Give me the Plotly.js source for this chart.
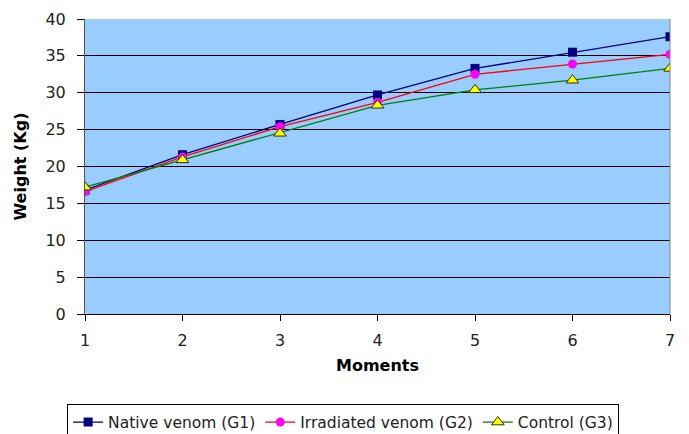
<!DOCTYPE html>
<html><head><meta charset="utf-8">
<script src="https://cdn.plot.ly/plotly-3.0.1.min.js"></script>
<style>html,body{margin:0;padding:0;background:#fff}#c{width:689px;height:434px}</style>
</head><body><div id="c"></div>
<script>
var moments = [1, 2, 3, 4, 5, 6, 7];
var nativeVenom = [16.8, 21.6, 25.7, 29.7, 33.3, 35.5, 37.6];
var irradiatedVenom = [16.6, 21.3, 25.4, 28.7, 32.5, 33.9, 35.2];
var control = [17.2, 20.9, 24.5, 28.3, 30.4, 31.7, 33.3];
var yTicks = [0, 5, 10, 15, 20, 25, 30, 35, 40];

var f = "DejaVu Sans, Verdana, sans-serif";
var traces = [
  {x: moments, y: nativeVenom, name: "Native venom (G1)", mode: "lines+markers",
   line: {color: "#000080", width: 1.3}, marker: {symbol: "square", size: 9, color: "#000080"}},
  {x: moments, y: irradiatedVenom, name: "Irradiated venom (G2)", mode: "lines+markers",
   line: {color: "#FF0000", width: 1.3}, marker: {symbol: "circle", size: 9, color: "#FF00FF"}},
  {x: moments, y: control, name: "Control (G3)", mode: "lines+markers",
   line: {color: "#008000", width: 1.3}, marker: {symbol: "triangle-up", size: 11, color: "#FFFF00", line: {color: "#333300", width: 1}}}
];
var layout = {
  width: 689, height: 434,
  margin: {l: 85, r: 19, t: 19, b: 120},
  paper_bgcolor: "#fff", plot_bgcolor: "#99CCFF",
  font: {family: f, size: 16, color: "#222"},
  showlegend: true,
  legend: {orientation: "h", xref: "container", yref: "container", x: 0.498, xanchor: "center", y: 0.068, yanchor: "top",
    bordercolor: "#000", borderwidth: 1, bgcolor: "#fff", font: {family: f, size: 15.5, color: "#222"},
    itemwidth: 30, tracegroupgap: 0},
  xaxis: {range: [1, 7], tickvals: moments, ticks: "outside", ticklen: 6, tickcolor: "#000",
    showgrid: false, zeroline: false, showline: true, linecolor: "#000", linewidth: 1,
    ticklabelstandoff: 6, tickfont: {family: f, size: 16, color: "#222"},
    title: {text: "<b>Moments</b>", font: {family: f, size: 16, color: "#000"}, standoff: 10}},
  yaxis: {range: [0, 40], tickvals: yTicks, ticks: "outside", ticklen: 7, tickcolor: "#000",
    showgrid: true, gridcolor: "#000", gridwidth: 1, zeroline: false, showline: true, linecolor: "#555", linewidth: 1,
    ticklabelstandoff: 8, tickfont: {family: f, size: 16, color: "#222"},
    title: {text: "<b>Weight (Kg)</b>", font: {family: f, size: 16, color: "#000"}, standoff: 14}},
  shapes: [{type: "line", xref: "paper", yref: "paper", x0: 1, x1: 1, y0: 0, y1: 1, line: {color: "#888", width: 1}}]
};
Plotly.newPlot("c", traces, layout, {displayModeBar: false, staticPlot: true});
</script></body></html>
